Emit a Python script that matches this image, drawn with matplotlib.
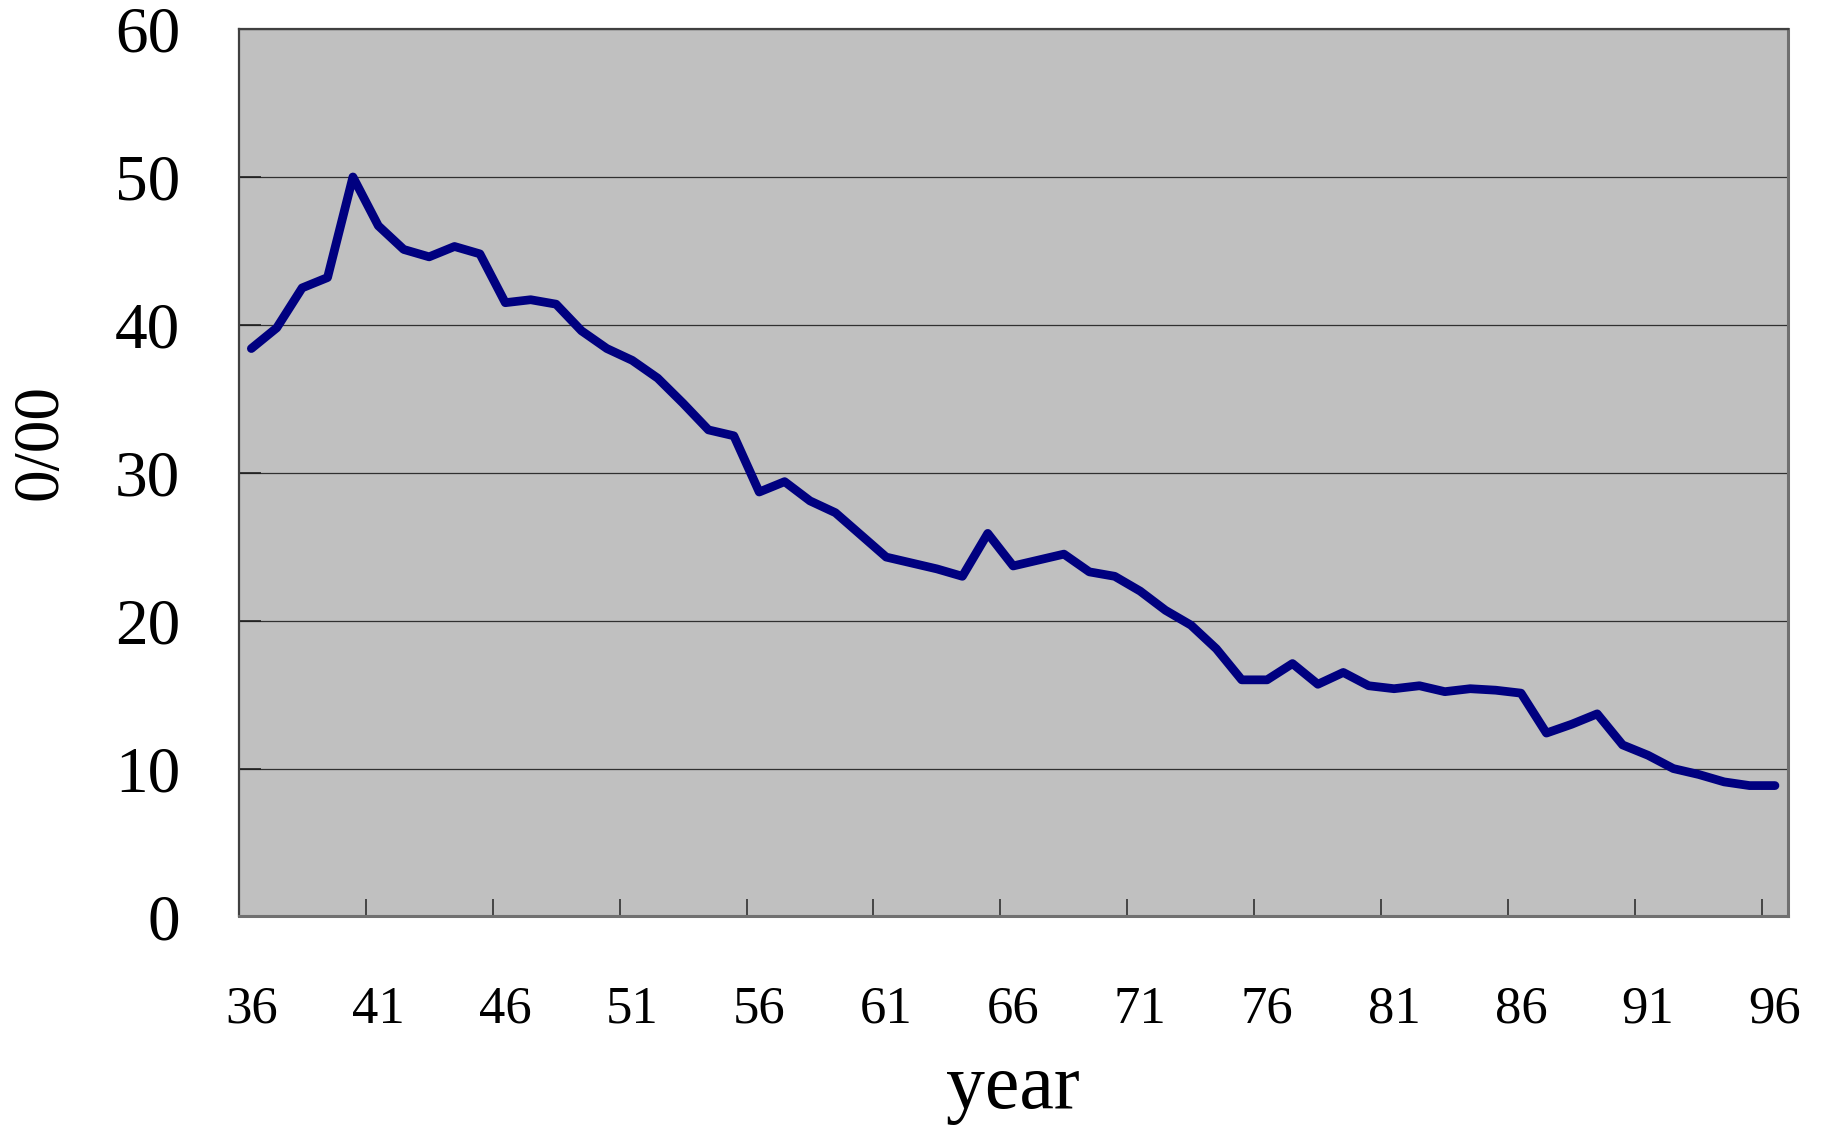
import matplotlib
matplotlib.use("Agg")
import matplotlib.pyplot as plt
from matplotlib.ticker import FixedLocator, NullFormatter

years = list(range(36, 97))
rate = [38.4, 39.8, 42.5, 43.2, 50.0, 46.7, 45.1, 44.6, 45.3, 44.8,
        41.5, 41.7, 41.4, 39.6, 38.4, 37.6, 36.4, 34.7, 32.9, 32.5,
        28.7, 29.4, 28.1, 27.3, 25.8, 24.3, 23.9, 23.5, 23.0, 25.9,
        23.7, 24.1, 24.5, 23.3, 23.0, 22.0, 20.7, 19.7, 18.1, 16.0,
        16.0, 17.1, 15.7, 16.5, 15.6, 15.4, 15.6, 15.2, 15.4, 15.3,
        15.1, 12.4, 13.0, 13.7, 11.6, 10.9, 10.0, 9.6, 9.1, 8.85, 8.85]
xtick_labels = [str(y) for y in range(36, 97, 5)]
yticks = [0, 10, 20, 30, 40, 50, 60]

plt.rcParams['font.family'] = ['Liberation Serif', 'DejaVu Serif']

fig = plt.figure(figsize=(18.26, 11.27), dpi=100)
ax = fig.add_axes([0.1307, 0.1868, 0.9790 - 0.1307, 0.9742 - 0.1868])
ax.set_facecolor('#C0C0C0')

idx = list(range(len(years)))
ax.plot(idx, rate, color='#000080', linewidth=6.3,
        solid_capstyle='round', solid_joinstyle='round', zorder=3)

ax.set_xlim(-0.5, len(years) - 0.5)
ax.set_ylim(0, 60)

# x axis: labels at every 5th category, tick marks at category boundaries
ax.set_xticks(idx[::5])
ax.set_xticklabels(xtick_labels)
ax.xaxis.set_minor_locator(FixedLocator([i + 4.5 for i in range(0, 60, 5)]))
ax.xaxis.set_minor_formatter(NullFormatter())
ax.tick_params(axis='x', which='major', length=0, pad=50, labelsize=38)
ax.tick_params(axis='x', which='minor', direction='in', length=12,
               width=1.2, color='#303030')

ax.set_yticks(yticks)
ax.tick_params(axis='y', which='major', direction='in', length=16,
               width=1.2, color='#202020', pad=42, labelsize=47)

ax.grid(axis='y', color='#303030', linewidth=0.9, zorder=1)
ax.set_axisbelow(True)

for side in ['left', 'top']:
    ax.spines[side].set_color('#404040')
    ax.spines[side].set_linewidth(1.6)
for side in ['right', 'bottom']:
    ax.spines[side].set_color('#707070')
    ax.spines[side].set_linewidth(2.2)

ax.set_xlabel('year', fontsize=56, va='baseline')
ax.xaxis.set_label_coords(0.5, -0.216)
ax.set_ylabel('0/00', fontsize=47, va='center', ha='center')
ax.yaxis.set_label_coords(-0.1276, 0.535)

fig.savefig('out.png', dpi=100)
